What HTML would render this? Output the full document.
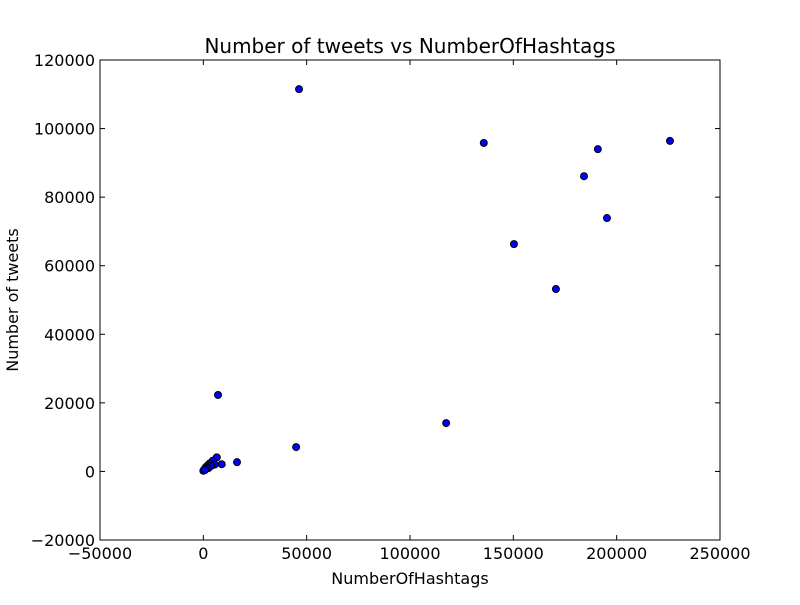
<!DOCTYPE html>
<html><head><meta charset="utf-8"><style>
body{margin:0;background:#fff;}
svg text{font-family:"DejaVu Sans","Liberation Sans",sans-serif;}
</style></head><body>
<svg id="chart" width="800" height="600" xmlns="http://www.w3.org/2000/svg">
<rect width="800" height="600" fill="#fff"/>
<text x="410" y="53" font-size="20" text-anchor="middle">Number of tweets vs NumberOfHashtags</text>
<g id="ticks"></g>
<g id="points"></g>
<rect x="100" y="60" width="620" height="480" fill="none" stroke="#000" stroke-width="1"/>
<text x="410" y="584" font-size="16" text-anchor="middle">NumberOfHashtags</text>
<text transform="translate(18,300) rotate(-90)" font-size="16" text-anchor="middle">Number of tweets</text>
</svg>
<script>
const xTicks=[-50000,0,50000,100000,150000,200000,250000];
const yTicks=[-20000,0,20000,40000,60000,80000,100000,120000];
const hashtags=[46300,135700,150300,170600,184200,190900,195300,225800,117500,44900,16300,7100,6500,8900,4500,3000,2000,1200,600,200,0,5500,3800,2500,1500,800];
const tweets=[111500,95800,66300,53200,86100,94000,73900,96400,14100,7100,2700,22300,4100,2100,3100,2300,1700,1200,700,300,200,2000,1600,1000,800,400];
const X0=100,X1=720,Y0=540,Y1=60;
const xs=v=>X0+(v+50000)/300000*(X1-X0);
const ys=v=>Y0-(v+20000)/140000*(Y0-Y1);
const NS="http://www.w3.org/2000/svg";
const tg=document.getElementById('ticks'),pg=document.getElementById('points');
function mk(t,a,p){const e=document.createElementNS(NS,t);for(const k in a)e.setAttribute(k,a[k]);p.appendChild(e);return e;}
xTicks.forEach(v=>{const x=xs(v);
mk('line',{x1:x,x2:x,y1:540,y2:535,stroke:'#000'},tg);
mk('line',{x1:x,x2:x,y1:60,y2:65,stroke:'#000'},tg);
const t=mk('text',{x:x,y:559,'font-size':16,'text-anchor':'middle'},tg);t.textContent=v<0?'\u2212'+(-v):v;

});
yTicks.forEach(v=>{const y=ys(v);
mk('line',{x1:100,x2:105,y1:y,y2:y,stroke:'#000'},tg);
mk('line',{x1:715,x2:720,y1:y,y2:y,stroke:'#000'},tg);
const t=mk('text',{x:95,y:y+6,'font-size':16,'text-anchor':'end'},tg);t.textContent=v<0?'\u2212'+(-v):v;

});
hashtags.forEach((h,i)=>{const c=mk('circle',{cx:xs(h),cy:ys(tweets[i]),r:3.5,fill:'#0000ff',stroke:'#000','stroke-width':1},pg);

});
</script>
</body></html>
